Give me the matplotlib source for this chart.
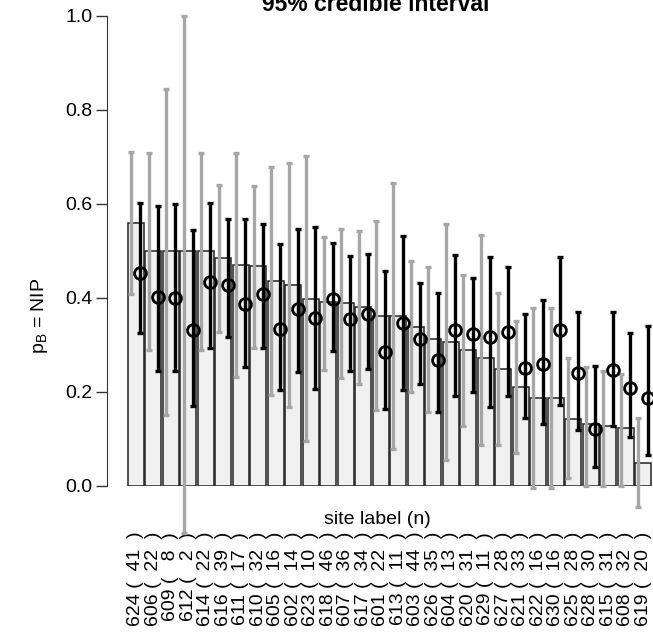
"""Per-site bar chart with two credible-interval whiskers."""
import matplotlib

matplotlib.use("Agg")
import matplotlib.pyplot as plt
import numpy as np

plt.rcParams["font.family"] = ["Liberation Sans", "DejaVu Sans"]

sites = ["624", "606", "609", "612", "614", "616", "611", "610", "605", "602",
         "623", "618", "607", "617", "601", "613", "603", "626", "604", "620",
         "629", "627", "621", "622", "630", "625", "628", "615", "608", "619"]
counts = [41, 22, 8, 2, 22, 39, 17, 32, 16, 14, 10, 46, 36, 34, 22,
          11, 44, 35, 13, 31, 11, 28, 33, 16, 16, 28, 30, 31, 32, 20]

bar_vals = [0.559, 0.500, 0.500, 0.500, 0.500, 0.486, 0.470, 0.468, 0.436, 0.427,
            0.397, 0.391, 0.389, 0.381, 0.362, 0.362, 0.339, 0.313, 0.307, 0.289,
            0.273, 0.249, 0.211, 0.187, 0.187, 0.142, 0.132, 0.128, 0.124, 0.048]

# grey interval (left whisker)
grey_lo = [0.409, 0.289, 0.151, -0.100, 0.289, 0.328, 0.231, 0.293, 0.194, 0.169,
           0.096, 0.247, 0.229, 0.216, 0.162, 0.078, 0.199, 0.158, 0.055, 0.128,
           0.087, 0.088, 0.071, -0.005, -0.005, 0.016, 0.000, 0.000, 0.000, -0.045]
grey_hi = [0.711, 0.708, 0.845, 1.000, 0.709, 0.640, 0.709, 0.639, 0.678, 0.687,
           0.702, 0.530, 0.547, 0.543, 0.564, 0.645, 0.479, 0.465, 0.557, 0.449,
           0.534, 0.410, 0.352, 0.378, 0.378, 0.272, 0.254, 0.245, 0.238, 0.144]

# black interval with point estimate (right whisker)
black_lo = [0.325, 0.245, 0.245, 0.170, 0.293, 0.318, 0.254, 0.293, 0.204, 0.242,
            0.206, 0.288, 0.245, 0.250, 0.163, 0.204, 0.216, 0.157, 0.192, 0.201,
            0.169, 0.192, 0.144, 0.132, 0.172, 0.119, 0.041, 0.128, 0.104, 0.067]
black_hi = [0.603, 0.596, 0.600, 0.545, 0.603, 0.568, 0.568, 0.557, 0.515, 0.547,
            0.552, 0.518, 0.489, 0.494, 0.458, 0.532, 0.431, 0.411, 0.491, 0.442,
            0.488, 0.467, 0.365, 0.395, 0.488, 0.371, 0.256, 0.371, 0.325, 0.340]
point_est = [0.453, 0.403, 0.399, 0.332, 0.433, 0.427, 0.387, 0.409, 0.333, 0.376,
             0.357, 0.398, 0.355, 0.365, 0.286, 0.347, 0.312, 0.268, 0.331, 0.323,
             0.316, 0.328, 0.251, 0.259, 0.331, 0.240, 0.121, 0.247, 0.208, 0.188]

x = np.arange(len(sites))
glo, ghi = np.array(grey_lo), np.array(grey_hi)
blo, bhi = np.array(black_lo), np.array(black_hi)
pts = np.array(point_est)
labels = [f"{s} (  {n:>2}  )" for s, n in zip(sites, counts)]

fig = plt.figure(figsize=(6.53, 6.32), dpi=100)
ax = fig.add_axes([106.7 / 653, 1 - 486 / 632, 1 - 106.7 / 653, 470 / 632])

ax.bar(x, bar_vals, width=0.93, color="#f0f0f0", edgecolor="#222222",
       linewidth=1.1, zorder=1)

ax.errorbar(x - 0.27, (glo + ghi) / 2, yerr=(ghi - glo) / 2, fmt="none",
            ecolor="#a6a6a6", elinewidth=2.4, capsize=2.5, capthick=2.4,
            zorder=2, clip_on=False)
ax.errorbar(x + 0.25, (blo + bhi) / 2, yerr=(bhi - blo) / 2, fmt="none",
            ecolor="black", elinewidth=2.4, capsize=2.5, capthick=2.4,
            zorder=3, clip_on=False)
ax.plot(x + 0.25, pts, "o", ms=8.5, mfc="none", mec="black", mew=2.0,
        zorder=4, clip_on=False)

ax.set_xlim(-1.66, 29.56)
ax.set_ylim(0, 1)
ax.set_yticks(np.arange(0, 1.01, 0.2))
ax.set_yticklabels([f"{v:.1f}" for v in np.arange(0, 1.01, 0.2)], fontsize=14)
ax.tick_params(axis="y", length=8, width=1, pad=2, color="#333333")

ax.set_xticks(x)
ax.set_xticklabels(labels, rotation=90, fontsize=14, va="top")
ax.tick_params(axis="x", length=0, pad=33)

for side in ["top", "right", "bottom"]:
    ax.spines[side].set_visible(False)
ax.spines["left"].set_color("#333333")
ax.spines["left"].set_bounds(0, 1)

fig.text(377 / 653, 1 - 519 / 632, "site label (n)", ha="center", va="center",
         fontsize=14)
fig.text(40 / 653, 1 - 316 / 632, r"p$_\mathregular{B}$ = NIP", rotation=90,
         ha="center", va="center", fontsize=14)
fig.text(376 / 653, 1 - 11 / 632, "95% credible interval", ha="center",
         va="baseline", fontsize=16.5, fontweight="bold")

fig.savefig("out.png", dpi=100)
plt.close(fig)
